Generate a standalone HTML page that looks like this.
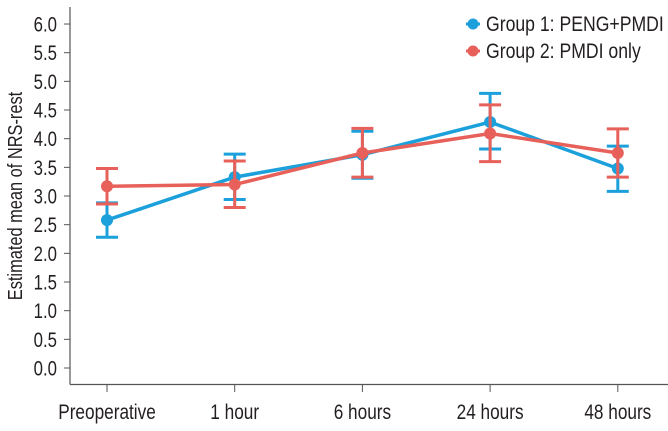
<!DOCTYPE html>
<html><head><meta charset="utf-8"><style>
body{margin:0;background:#fff;}
svg text{font-family:"Liberation Sans",sans-serif;fill:#231f20;}
</style></head><body>
<svg id="chart" width="668" height="426" viewBox="0 0 668 426">
<g id="axes"></g>
<g id="series"></g>
<g>
<g>
<circle cx="473" cy="24" r="5.5" fill="#1ba0db"/><line x1="466" y1="24" x2="480" y2="24" stroke="#1ba0db" stroke-width="3"/>
<text transform="translate(486,31) scale(0.84,1)" font-size="21">Group 1: PENG+PMDI</text></g>
<g>
<circle cx="473" cy="51" r="5.5" fill="#e8605a"/><line x1="466" y1="51" x2="480" y2="51" stroke="#e8605a" stroke-width="3"/>
<text transform="translate(486,58) scale(0.84,1)" font-size="21">Group 2: PMDI only</text></g>
</g>
<text transform="translate(22,196) rotate(-90) scale(0.82,1)" text-anchor="middle" font-size="20">Estimated mean of NRS-rest</text>
</svg>
<script>
const categories=["Preoperative","1 hour","6 hours","24 hours","48 hours"];
const g1Mean=[2.58,3.33,3.72,4.29,3.48];
const g1Low=[2.28,2.94,3.31,3.82,3.08];
const g1High=[2.88,3.73,4.13,4.79,3.87];
const g2Mean=[3.17,3.20,3.75,4.09,3.75];
const g2Low=[2.86,2.80,3.33,3.60,3.33];
const g2High=[3.48,3.61,4.18,4.59,4.17];
const yTicks=["0.0","0.5","1.0","1.5","2.0","2.5","3.0","3.5","4.0","4.5","5.0","5.5","6.0"];
const NS="http://www.w3.org/2000/svg";
const y=v=>368-v*57.33;
const x=i=>107+i*127.7;
function mk(tag,attrs,parent){const e=document.createElementNS(NS,tag);for(const k in attrs)e.setAttribute(k,attrs[k]);parent.appendChild(e);return e;}
const axes=document.getElementById('axes');
let l=mk('line',{x1:70,y1:7,x2:70,y2:384.5,stroke:'#555',"stroke-width":1.2},axes);


l=mk('line',{x1:70,y1:384.5,x2:668,y2:384.5,stroke:'#555',"stroke-width":1.2},axes);


yTicks.forEach(t=>{const v=parseFloat(t);
mk('line',{x1:64,x2:70,y1:y(v),y2:y(v),stroke:'#555'},axes);
const tx=mk('text',{transform:'translate(57,'+(y(v)+7.5)+') scale(0.8,1)',"text-anchor":"end","font-size":21},axes);tx.textContent=t;

});
categories.forEach((c,i)=>{
mk('line',{x1:x(i),x2:x(i),y1:384.5,y2:392,stroke:'#555'},axes);
const tx=mk('text',{transform:'translate('+x(i)+',419) scale(0.82,1)',"text-anchor":"middle","font-size":21},axes);tx.textContent=c;

});
const ser=document.getElementById('series');
function draw(mean,lo,hi,color,name){
const g=mk('g',{},ser);


mk('polyline',{points:mean.map((v,i)=>x(i)+','+y(v)).join(' '),fill:'none',stroke:color,"stroke-width":3.5},g);
mean.forEach((v,i)=>{
mk('line',{x1:x(i),x2:x(i),y1:y(lo[i]),y2:y(hi[i]),stroke:color,"stroke-width":3},g);
mk('line',{x1:x(i)-11,x2:x(i)+11,y1:y(lo[i]),y2:y(lo[i]),stroke:color,"stroke-width":3},g);
mk('line',{x1:x(i)-11,x2:x(i)+11,y1:y(hi[i]),y2:y(hi[i]),stroke:color,"stroke-width":3},g);
const p=mk('circle',{cx:x(i),cy:y(v),r:6,fill:color},g);


});}
draw(g1Mean,g1Low,g1High,'#1ba0db','series-group-1');
draw(g2Mean,g2Low,g2High,'#e8605a','series-group-2');
</script>
</body></html>
